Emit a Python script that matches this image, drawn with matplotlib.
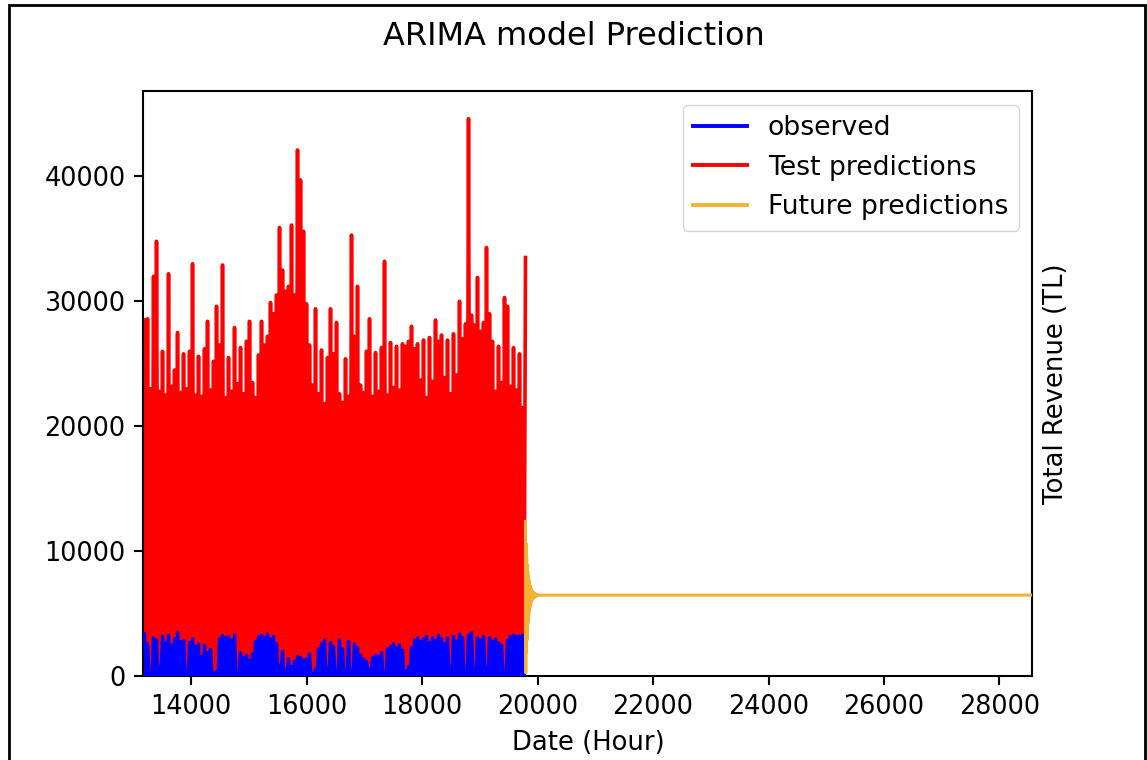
import numpy as np
import matplotlib.pyplot as plt
from matplotlib.patches import Rectangle

# hour range of the test period
test_start, test_end = 13190, 19790

# peaks of the hourly test predictions (left to right)
test_peaks = [
    28500, 28600, 23000, 32000, 34800, 22800, 26000, 22500, 32200, 23200,
    24500, 27500, 22700, 25800, 23000, 26000, 33000, 22500, 25600, 22400,
    26200, 28400, 22900, 25200, 29600, 26500, 32900, 22300, 25500, 22800,
    27900, 23400, 26300, 22600, 26800, 28400, 23500, 22300, 25700, 28400,
    26500, 27200, 29900, 29000, 30500, 35900, 32500, 30800, 31200, 36100,
    30500, 42100, 39700, 35600, 29800, 26500, 23300, 29400, 22600, 26100,
    21800, 25500, 29400, 25800, 28300, 22600, 21900, 25400, 22400, 35300,
    27200, 31200, 23300, 22700, 26000, 28600, 22400, 25900, 22800, 26300,
    33200, 22500, 26700, 23100, 26400, 22900, 26600, 26400, 26800, 28000,
    26200, 26600, 23700, 26900, 22300, 27100, 23600, 28500, 26800, 27300,
    23900, 26900, 22600, 27400, 24100, 30000, 27000, 28200, 44600, 28900,
    28100, 31900, 27600, 28300, 34300, 29000, 26800, 22800, 26400, 23500,
    30300, 29600, 23200, 26300, 22900, 25800, 21500, 33500]

# peaks of the observed series
obs_peaks = [
    3400, 2600, 300, 3100, 2900, 800, 3200, 2700, 3300, 2500,
    3000, 3500, 2800, 2900, 200, 2700, 3000, 2400, 2600, 1600,
    2500, 1900, 2200, 300, 400, 3000, 3300, 3100, 3200, 2900,
    3300, 300, 1900, 1500, 1700, 1300, 1800, 2800, 3200, 3300,
    3100, 3400, 3000, 3200, 2600, 900, 2000, 500, 1400, 800,
    1200, 1600, 1500, 1300, 1400, 1800, 200, 600, 2200, 2600,
    2900, 600, 2700, 2400, 400, 2900, 2200, 500, 2800, 300,
    2600, 2300, 1700, 1400, 1200, 600, 1500, 1700, 1600, 1900,
    300, 2200, 2400, 2600, 2300, 2500, 2100, 400, 800, 2300,
    2900, 3100, 2800, 3000, 3200, 2700, 3100, 2900, 3300, 3000,
    2600, 3100, 500, 3200, 2800, 3400, 3100, 300, 3300, 3500,
    600, 3100, 2900, 3200, 700, 3100, 2800, 3000, 2700, 2500,
    300, 2900, 3200, 3300, 3200, 3200, 3300, 3200]

# future predictions: damped start every 5 hours, then flat until the end
future_step = 5
future_start_vals = [
    12400, 300, 10600, 1900, 9600, 2900, 8900, 3700, 8400, 4300,
    8000, 4800, 7700, 5200, 7450, 5500, 7250, 5750, 7100, 5900,
    6980, 6020, 6880, 6120, 6800, 6200, 6740, 6260, 6690, 6310,
    6650, 6350, 6620, 6380, 6590, 6410, 6570, 6430, 6550, 6450,
    6530, 6470, 6515, 6485, 6500]
future_end, future_end_val = 28570, 6500

fig = plt.figure(figsize=(11.47, 7.6), dpi=100)
ax = fig.add_subplot(111)

# zig-zag between daily peaks and night lows (0)
test_x = np.linspace(test_start, test_end, 2 * len(test_peaks) - 1)
test_y = np.zeros(len(test_x))
test_y[::2] = test_peaks
obs_x = np.linspace(test_start, test_end, 2 * len(obs_peaks) - 1)
obs_y = np.zeros(len(obs_x))
obs_y[::2] = obs_peaks
fut_x = list(test_end + future_step * np.arange(len(future_start_vals))) + [future_end]
fut_y = future_start_vals + [future_end_val]

l_test, = ax.plot(test_x, test_y, color='red', lw=2.6, label='Test predictions', zorder=2)
l_obs, = ax.plot(obs_x, obs_y, color='blue', lw=2.4, label='observed', zorder=3)
l_fut, = ax.plot(fut_x, fut_y, color='#F2B134', lw=2.2, label='Future predictions', zorder=4)

ax.set_xlim(13170, 28570)
ax.set_ylim(0, 46800)
ax.set_xticks(range(14000, 28001, 2000))
ax.set_yticks(range(0, 40001, 10000))
ax.tick_params(labelsize=18.4, length=6.4, width=1.5, pad=6.4)
for s in ax.spines.values():
    s.set_linewidth(1.5)

fig.suptitle('ARIMA model Prediction', fontsize=23, y=0.972)
ax.set_xlabel('Date (Hour)', fontsize=18.6, labelpad=7.4)
ax.set_ylabel('Total Revenue (TL)', fontsize=18.6, labelpad=7.4)
ax.yaxis.set_label_position('right')

leg = ax.legend(handles=[l_obs, l_test, l_fut], loc='upper right', fontsize=19.2)
for line in leg.get_lines():
    line.set_linewidth(2.8)

# frame of the screenshot
fig.add_artist(Rectangle((9 / 1147, -0.02), 1136 / 1147, 1.02 - 5 / 760,
                         transform=fig.transFigure, fill=False,
                         ec='black', lw=2, clip_on=False))

fig.savefig('out.png', dpi=100)
